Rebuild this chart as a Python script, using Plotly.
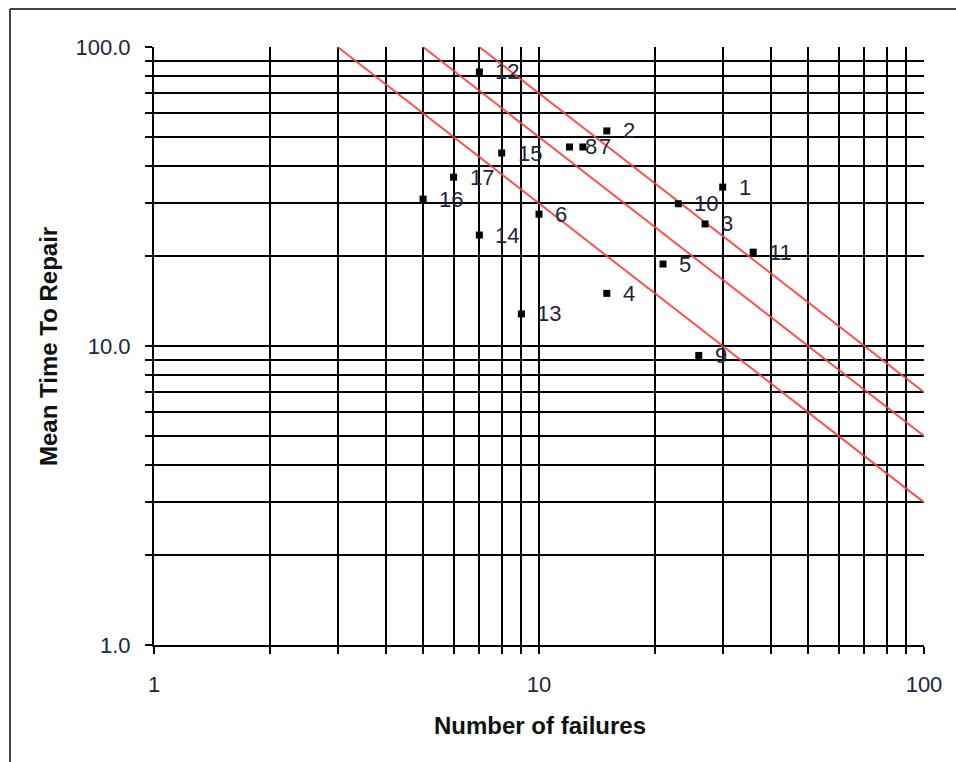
import numpy as np
import plotly.graph_objects as go

# ---- data ----
labels = ["1", "2", "3", "4", "5", "6", "7", "8", "9", "10",
          "11", "12", "13", "14", "15", "16", "17"]
failures = [30, 15, 27, 15, 21, 10, 13, 12, 26, 23,
            36, 7, 9, 7, 8, 5, 6]
mttr = [34.0, 52.4, 25.6, 15.0, 18.8, 27.6, 46.3, 46.3, 9.3, 29.9,
        20.6, 82.5, 12.8, 23.5, 44.2, 31.0, 36.7]
iso_products = [300, 500, 700]   # lines of constant failures x MTTR

x_major = [1, 10, 100]
x_major_text = ["1", "10", "100"]
y_major = [1, 10, 100]
y_major_text = ["1.0", "10.0", "100.0"]
minor_vals = [2, 3, 4, 5, 6, 7, 8, 9, 20, 30, 40, 50, 60, 70, 80, 90]

FONT = "Arial, Liberation Sans, sans-serif"
LABEL_COLOR = "#22243a"

fig = go.Figure()

# iso lines (x*y = k), from y=100 down to x=100
for k in iso_products:
    xs = np.logspace(np.log10(k / 100.0), 2, 50)
    fig.add_trace(go.Scatter(x=xs, y=k / xs, mode="lines",
                             line=dict(color="rgba(255,60,60,0.9)", width=2),
                             hoverinfo="skip", showlegend=False))

fig.add_trace(go.Scatter(x=failures, y=mttr, mode="markers",
                         marker=dict(symbol="square", size=7, color="black"),
                         showlegend=False))

annotations = []
for lab, xv, yv in zip(labels, failures, mttr):
    annotations.append(dict(x=np.log10(xv), y=np.log10(yv), xref="x", yref="y",
                            text=lab, showarrow=False, xanchor="left",
                            yanchor="middle", xshift=14,
                            font=dict(family=FONT, size=22, color=LABEL_COLOR)))

annotations.append(dict(x=0.501, y=-0.134, xref="paper", yref="paper",
                        text="<b>Number of failures</b>", showarrow=False,
                        xanchor="center", yanchor="middle",
                        font=dict(family=FONT, size=24, color="#111")))
annotations.append(dict(x=-0.1377, y=0.5, xref="paper", yref="paper",
                        text="<b>Mean Time To Repair</b>", showarrow=False,
                        textangle=-90, xanchor="center", yanchor="middle",
                        font=dict(family=FONT, size=24, color="#111")))

axis_common = dict(type="log", range=[0, 2], showgrid=True, gridcolor="black",
                   gridwidth=2, ticks="outside", ticklen=7, tickcolor="black",
                   tickwidth=1.5, showline=True, linecolor="black", linewidth=2,
                   zeroline=False,
                   minor=dict(tickvals=minor_vals, showgrid=True, gridcolor="black",
                              gridwidth=2, ticks="outside", ticklen=7,
                              tickcolor="black", tickwidth=1.5))

fig.update_xaxes(**axis_common, tickvals=x_major, ticktext=x_major_text,
                 tickfont=dict(family=FONT, size=22, color=LABEL_COLOR),
                 ticklabelstandoff=12)
fig.update_yaxes(**axis_common, tickvals=y_major, ticktext=y_major_text,
                 tickfont=dict(family=FONT, size=22, color=LABEL_COLOR),
                 ticklabelstandoff=10)

# page frame (left and top border of the original figure)
fx0 = (10 - 154) / 770
fy1 = (645 - 9) / 598
shapes = [
    dict(type="line", xref="paper", yref="paper", x0=fx0, x1=fx0, y0=-0.25, y1=fy1,
         line=dict(color="#444", width=2)),
    dict(type="line", xref="paper", yref="paper", x0=fx0, x1=1.1, y0=fy1, y1=fy1,
         line=dict(color="#444", width=2)),
]

fig.update_layout(width=956, height=762, margin=dict(l=154, r=32, t=47, b=117),
                  plot_bgcolor="white", paper_bgcolor="white",
                  annotations=annotations, shapes=shapes,
                  font=dict(family=FONT))

fig.write_html("out.html")
